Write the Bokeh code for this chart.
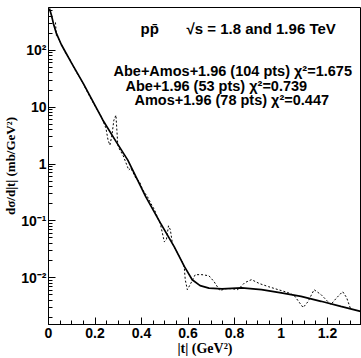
import math
from bokeh.plotting import figure
from bokeh.models import FixedTicker, Label, Range1d
from bokeh.embed import file_html
from bokeh.resources import INLINE

# ---- data ----
# model fit (solid line): |t| in GeV^2, dsigma/d|t| in mb/GeV^2
model_t = [0.004, 0.013, 0.021, 0.034, 0.055, 0.10, 0.15, 0.234, 0.29, 0.341, 0.418,
           0.481, 0.541, 0.584, 0.618, 0.652, 0.690, 0.746, 0.831, 0.916, 1.001,
           1.086, 1.172, 1.257, 1.342]
model_ds = [546, 411, 298, 199, 127, 59, 26, 5.9, 2.5, 1.17, 0.266,
            0.0921, 0.0349, 0.0158, 0.0092, 0.00724, 0.00655, 0.00634, 0.00659, 0.00615, 0.00539,
            0.00470, 0.00384, 0.00313, 0.00256]

# data interpolation (dotted line)
data_t = [0.030, 0.034, 0.043, 0.051, 0.072, 0.094, 0.115, 0.141, 0.170, 0.200, 0.226,
          0.247, 0.256, 0.264, 0.273, 0.281, 0.290, 0.294, 0.298, 0.307, 0.320, 0.332,
          0.345, 0.354, 0.375, 0.392, 0.405, 0.426, 0.439, 0.456, 0.473, 0.481, 0.498,
          0.507, 0.516, 0.524, 0.533, 0.554, 0.575, 0.584, 0.588, 0.597, 0.609, 0.631,
          0.660, 0.690, 0.712, 0.737, 0.763, 0.788, 0.814, 0.844, 0.873, 0.908, 0.946,
          0.988, 1.031, 1.057, 1.095, 1.116, 1.142, 1.172, 1.214, 1.240, 1.265, 1.282, 1.300]
data_ds = [310, 183, 162, 138, 92, 66.8, 44.6, 29.8, 17.6, 10.4, 6.95,
           4.28, 2.64, 2.15, 3.23, 5.91, 7.24, 3.95, 2.15, 1.76, 1.44, 1.08,
           0.785, 0.851, 0.568, 0.483, 0.350, 0.264, 0.207, 0.156, 0.104, 0.0886, 0.0428,
           0.0465, 0.0817, 0.0695, 0.0395, 0.0275, 0.0191, 0.0150, 0.00923, 0.00615, 0.00753, 0.0113,
           0.0113, 0.0108, 0.00851, 0.00592, 0.00641, 0.00641, 0.00615, 0.00817, 0.00923, 0.00785, 0.00695,
           0.00615, 0.00545, 0.00483, 0.00298, 0.00379, 0.00615, 0.00504, 0.00336, 0.00446, 0.00568, 0.00446, 0.00275]

x_ticks = [0, 0.2, 0.4, 0.6, 0.8, 1.0, 1.2]
x_tick_labels = ["0", "0.2", "0.4", "0.6", "0.8", "1", "1.2"]
y_ticks = [0.01, 0.1, 1, 10, 100]
y_tick_labels = ["10\u207b\u00b2", "10\u207b\u00b9", "1", "10", "10\u00b2"]

title_a = "pp\u0304"
title_b = "\u221as = 1.8 and 1.96 TeV"
fit_lines = ["Abe+Amos+1.96 (104 pts) \u03c7\u00b2=1.675",
             "Abe+1.96 (53 pts) \u03c7\u00b2=0.739",
             "Amos+1.96 (78 pts) \u03c7\u00b2=0.447"]
x_title = "|t| (GeV\u00b2)"
y_title = "d\u03c3/d|t| (mb/GeV\u00b2)"

W, H = 361, 358
FRAME_LEFT, FRAME_BOTTOM = 45, 326   # picture pixels of the frame's lower-left corner
p = figure(width=W, height=H, x_range=Range1d(0, 1.346), y_range=Range1d(0.0015, 568),
           y_axis_type="log", output_backend="svg", toolbar_location=None,
           min_border_left=FRAME_LEFT, min_border_right=0, min_border_top=7,
           min_border_bottom=H - FRAME_BOTTOM)
p.background_fill_color = "white"
p.border_fill_color = "white"
p.outline_line_color = "black"
p.xgrid.grid_line_color = None
p.ygrid.grid_line_color = None

p.line(model_t, model_ds, line_color="black", line_width=1.7)
p.line(data_t, data_ds, line_color="black", line_width=1.0, line_dash="2 2")

minor_x = [round(0.05 * k, 3) for k in range(0, 27) if k % 4 != 0]
p.xaxis.ticker = FixedTicker(ticks=x_ticks, minor_ticks=minor_x)
p.xaxis.major_label_overrides = {t: l for t, l in zip(x_ticks, x_tick_labels)}
minor_y = [m * 10.0 ** d for d in range(-3, 3) for m in range(2, 10)]
p.yaxis.ticker = FixedTicker(ticks=y_ticks, minor_ticks=minor_y)
p.yaxis.major_label_overrides = {t: l for t, l in zip(y_ticks, y_tick_labels)}

for ax in (p.xaxis[0], p.yaxis[0]):
    ax.axis_line_color = "black"
    ax.axis_line_width = 1
    ax.major_tick_in = 7
    ax.major_tick_out = 0
    ax.minor_tick_in = 4
    ax.minor_tick_out = 0
    ax.major_tick_line_color = "black"
    ax.minor_tick_line_color = "black"
    ax.major_label_text_font = "Liberation Sans"
    ax.major_label_text_font_style = "bold"
    ax.major_label_text_font_size = "14px"
    ax.major_label_text_color = "black"
    ax.axis_label_text_font = "Liberation Serif"
    ax.axis_label_text_font_style = "bold"
    ax.axis_label_text_font_size = "14px"
    ax.axis_label_text_color = "black"
    ax.axis_label_standoff = 0
p.yaxis.axis_label_text_font_size = "13px"
p.xaxis.major_label_standoff = 3
p.yaxis.major_label_standoff = 2
p.xaxis.axis_label = x_title
p.yaxis.axis_label = y_title


def add_text(txt, px, py, size="15px", font="Liberation Sans", align="left", angle=0.0):
    # Label screen units are measured from the frame's lower-left corner
    lab = Label(x=px - FRAME_LEFT, y=FRAME_BOTTOM - py, x_units="screen", y_units="screen",
                text=txt, text_font=font, text_font_style="bold", text_font_size=size,
                text_align=align, text_baseline="middle", angle=angle, text_color="black")
    p.add_layout(lab)


add_text(title_a, 137, 30)
add_text(title_b, 183, 30)
add_text(fit_lines[0], 110, 72, size="14.5px")
add_text(fit_lines[1], 122, 87, size="14.5px")
add_text(fit_lines[2], 131, 101, size="14.5px")

open("out.html", "w").write(file_html(p, INLINE))
